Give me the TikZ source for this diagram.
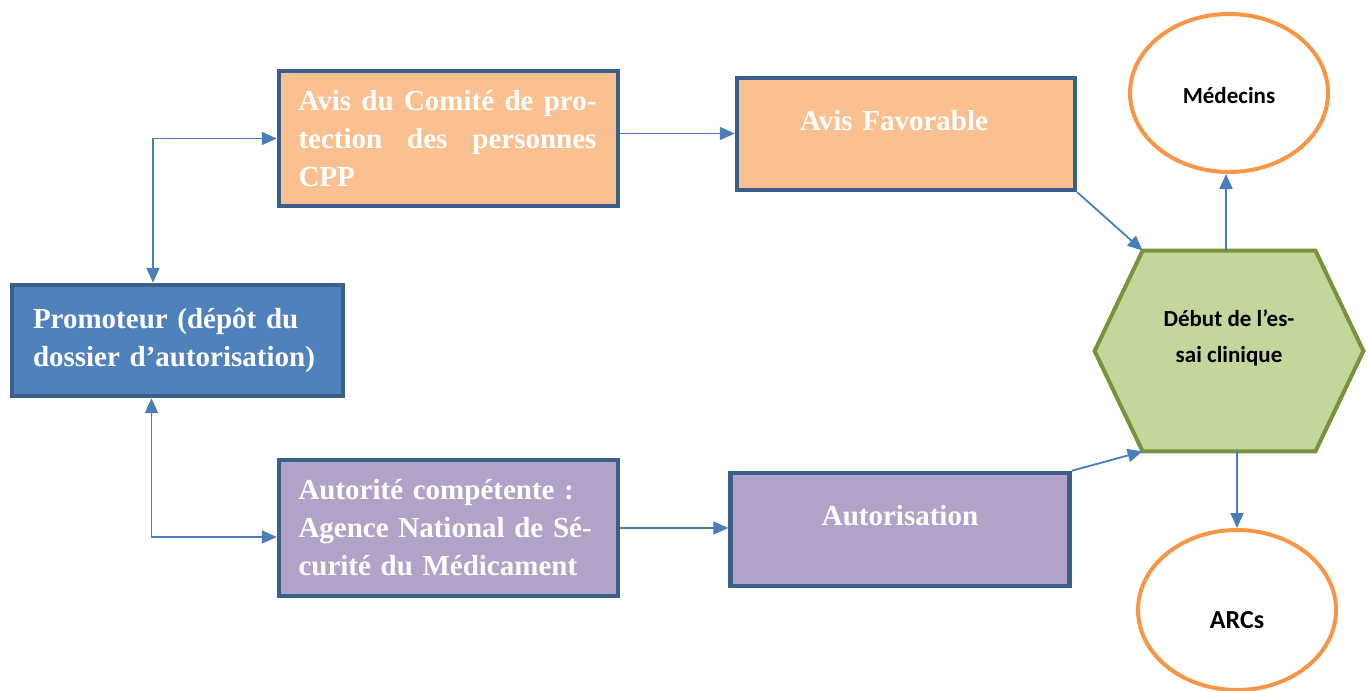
\documentclass[tikz,border=0pt]{standalone}
\usepackage{fontspec}
\setmainfont{Liberation Serif}
\newfontfamily\calibri{Carlito}
\usepackage{xcolor}
\usetikzlibrary{shapes,arrows.meta,positioning,backgrounds}

\definecolor{boxline}{HTML}{3A5F8B}
\definecolor{promoblue}{HTML}{4F81BD}
\definecolor{peach}{HTML}{FAC090}
\definecolor{lavender}{HTML}{B3A2C7}
\definecolor{hexgreen}{HTML}{C3D69B}
\definecolor{hexline}{HTML}{77933C}
\definecolor{ringorange}{HTML}{F79646}
\definecolor{linkblue}{HTML}{4A7EBB}

\begin{document}
\begin{tikzpicture}[
    x=0.5pt, y=-0.5pt,
    box/.style = {draw=boxline, line width=2.2pt, rectangle, text=white, inner sep=0pt,
                  font=\bfseries\fontsize{14.5}{19}\selectfont},
    hexa/.style = {rectangle, minimum width=86pt, minimum height=100pt, inner sep=0pt,
                   align=center, font=\calibri\bfseries\fontsize{11.5}{18}\selectfont},
    ring/.style = {draw=ringorange, line width=2pt, ellipse, fill=white, inner sep=0pt,
                   minimum width=99pt, minimum height=79pt},
    link/.style = {draw=linkblue, line width=0.9pt},
    >={Triangle[length=7.5pt,width=6.5pt]},
  ]
    \useasboundingbox (0,0) rectangle (1368,690);

    % left column
    \node[box, fill=promoblue, minimum width=165.5pt, minimum height=55.5pt,
          text width=144.5pt, align=left] (promo) at (177.5,340.5)
        {Promoteur (dépôt du\\dossier d’autorisation)};

    % middle column
    \node[box, fill=peach, minimum width=169.5pt, minimum height=67.5pt,
          text width=150pt, align=left] (cpp) at (448.5,138.5)
        {\makebox[149pt]{Avis\hfill du\hfill Comité\hfill de\hfill pro-}\\
         \makebox[149pt]{tection\hfill des\hfill personnes}\\CPP};
    \node[box, fill=lavender, minimum width=169.5pt, minimum height=68pt,
          text width=150pt, align=left] (ansm) at (448.5,528)
        {Autorité compétente~:\\Agence National de Sé-\\curité du Médicament};

    % results
    \node[box, fill=peach, minimum width=169pt, minimum height=56pt, text depth=14pt,
          text width=106pt, align=left] (fav) at (906,134) {Avis Favorable};
    \node[box, fill=lavender, minimum width=169.5pt, minimum height=56.5pt, text depth=14pt]
        (aut) at (900,529.5) {Autorisation};

    % trial start
    \node[hexa, text depth=15pt] (hex) at (1229,351) {Début de l’es-\\sai clinique};
    \begin{scope}[on background layer]
        \filldraw[fill=hexgreen, draw=hexline, line width=2pt]
            (hex.north west) -- (hex.north east) -- ([xshift=24pt]hex.east)
            -- (hex.south east) -- (hex.south west) -- ([xshift=-24pt]hex.west) -- cycle;
    \end{scope}

    \node[ring, text height=11pt, font=\calibri\bfseries\fontsize{11.5}{13}\selectfont]
        (med) at (1229,93) {Médecins};
    \node[ring, minimum height=80pt, text height=18.6pt, font=\calibri\bfseries\fontsize{13}{15}\selectfont]
        (arcs) at (1237,610) {ARCs};

    % connectors
    \draw[link, <->] ([xshift=-12.25pt]promo.north) |- (cpp.west);
    \draw[link, <->] ([xshift=-13pt]promo.south) |- ([yshift=-4.5pt]ansm.west);
    \draw[link, ->] ([yshift=2.5pt]cpp.east) -- ([yshift=2.5pt]cpp.east -| fav.west);
    \draw[link, ->] (ansm.east) -- (ansm.east -| aut.west);
    \draw[link, ->] (fav.south east) -- (hex.north west);
    \draw[link, ->] (aut.north east) -- (hex.south west);
    \draw[link, ->] ([xshift=-1.5pt]hex.north) -- ([xshift=-1.5pt]med.south);
    \draw[link, ->] (arcs.north |- hex.south) -- (arcs.north);
\end{tikzpicture}
\end{document}
